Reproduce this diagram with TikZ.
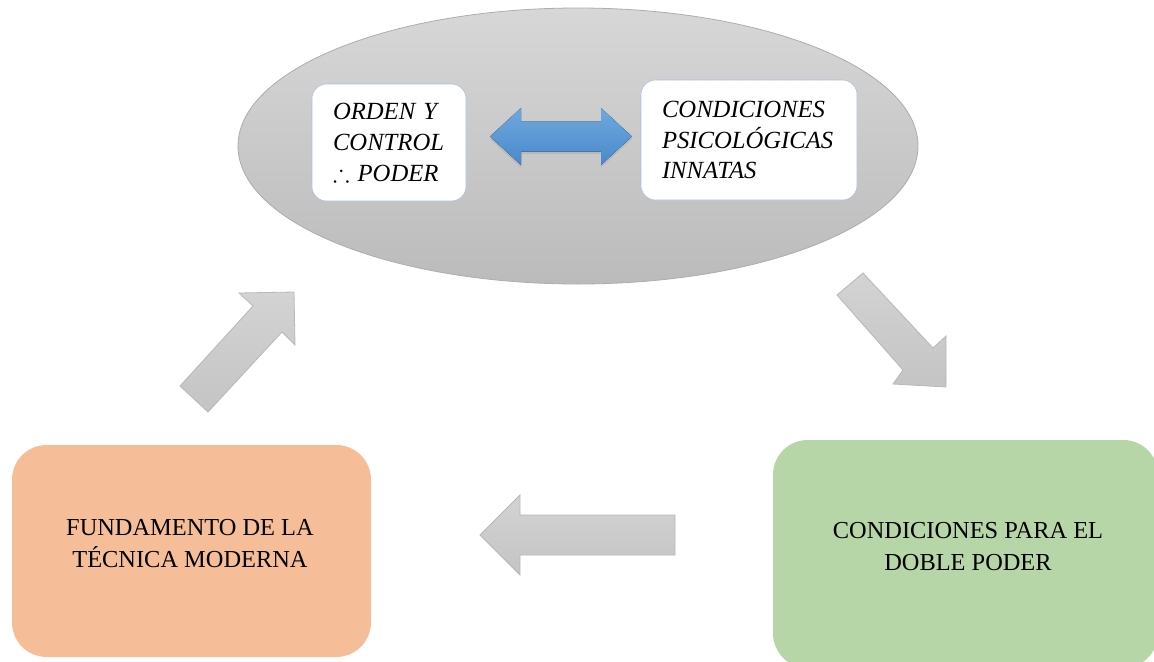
\documentclass[tikz,border=0pt]{standalone}
\usepackage{amssymb}
\usepackage{fontspec}
\setmainfont{Liberation Serif}
\usetikzlibrary{shadows}

\definecolor{grisclaro}{HTML}{D7D7D7}
\definecolor{grisoscuro}{HTML}{BBBBBB}
\definecolor{grisborde}{HTML}{ADADAD}
\definecolor{azulborde}{HTML}{A9C0E6}
\definecolor{azularriba}{HTML}{6EA9DE}
\definecolor{azulabajo}{HTML}{4A88CB}
\definecolor{flechaclara}{HTML}{D3D3D3}
\definecolor{flechaoscura}{HTML}{C4C4C4}
\definecolor{flechaborde}{HTML}{B8B8B8}
\definecolor{naranja}{HTML}{F5BE98}
\definecolor{verde}{HTML}{B7D6A7}

\begin{document}
\begin{tikzpicture}[x=0.75pt, y=-0.75pt,
    caja/.style={draw=azulborde, fill=white, rounded corners=11pt,
      inner sep=0pt, align=left, font=\fontsize{18.5}{23}\selectfont\itshape},
    bloque/.style={rounded corners=26pt, inner sep=0pt},
    texto/.style={align=center, font=\fontsize{18.3}{24}\selectfont}]
  \clip (0, 0) rectangle (1154, 661);
  % ellipse
  \draw [grisborde, line width=0.6pt, top color=grisclaro, bottom color=grisoscuro] %
  (578, 146) ellipse [x radius=255pt, y radius=103.5pt];
  \node [caja, minimum width=115.5pt, minimum height=87.75pt, text width=84pt]
    (orden) at (389, 142.5) {ORDEN Y\\CONTROL\\$\therefore$ PODER};
  \node [caja, minimum width=162pt, minimum height=90pt, text width=130.5pt]
    (psico) at (749, 140) {CONDICIONES\\PSICOLÓGICAS\\INNATAS};
  \fill [top color=azularriba, bottom color=azulabajo,
    drop shadow={opacity=0.2, shadow xshift=0pt, shadow yshift=-2pt}] %
  (490, 136.5) -- (521, 108) -- (521, 121.5) -- (601, 121.5) -- (601, 108)
  -- (632, 136.5) -- (601, 165) -- (601, 151.5) -- (521, 151.5) -- (521, 165) -- cycle;
  % gray arrows
  \tikzset{flechagris/.style={draw=flechaborde, line width=0.6pt,
      top color=flechaclara, bottom color=flechaoscura}}
  \draw [flechagris] (294, 292) -- (295, 345) -- (282, 332) -- (208, 412)
  -- (180, 386) -- (253, 306) -- (239, 293) -- cycle;
  \draw [flechagris] (863, 273) -- (933, 348) -- (946, 336) -- (946, 387)
  -- (893, 384) -- (903, 370) -- (837, 295) -- cycle;
  \draw [flechagris] (480, 535) -- (520, 495) -- (520, 515) -- (675, 515)
  -- (675, 555) -- (520, 555) -- (520, 575) -- cycle;
  % bottom boxes
  \node [bloque, fill=naranja, minimum width=269.25pt, minimum height=159pt]
    (tecnica) at (191.5, 551) {};
  \node [texto] (tecnicatxt) at (190, 544) {FUNDAMENTO DE LA\\TÉCNICA MODERNA};
  \node [bloque, fill=verde, minimum width=288.75pt, minimum height=171pt]
    (doble) at (965.5, 554) {};
  \node [texto] (dobletxt) at (968, 547) {CONDICIONES PARA EL\\DOBLE PODER};
\end{tikzpicture}
\end{document}
